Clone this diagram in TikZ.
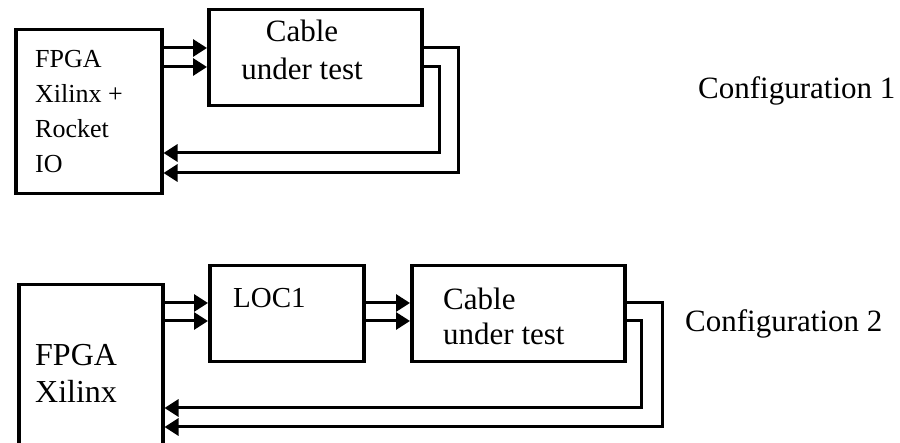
\documentclass[tikz,border=0pt]{standalone}
\usepackage{fontspec}
\setmainfont{Liberation Serif}
\usetikzlibrary{arrows.meta,calc}

\tikzset{
    box/.style={draw, line width=3.5pt, anchor=north west, inner sep=0pt},
    txt/.style={inner sep=0pt, align=left, anchor=north west},
    conn/.style={line width=3pt, -{Triangle[length=14pt,width=17pt]}}
}

\begin{document}
\begin{tikzpicture}[x=1pt,y=-1pt]
    \clip (0,0) rectangle (900,443);
    % configuration 1
    \node[box, minimum width=146pt, minimum height=164pt] (fpga1) at (14,28) {};
    \node[box, minimum width=213pt, minimum height=96pt] (cab1) at (207,8) {};
    \node[txt, font=\fontsize{26}{35}\selectfont] (fpga1txt) at ($(fpga1.north west)+(21,22)$) {FPGA\\Xilinx +\\Rocket\\IO};
    \node[txt, anchor=north, align=center, font=\fontsize{31}{38}\selectfont] (cab1txt) at ($(cab1.north west)+(95,12)$) {Cable\\under test};
    \node[inner sep=0pt, anchor=base west, font=\fontsize{31}{38}\selectfont] (conf1) at (698,99) {Configuration 1};
    \coordinate (in1) at ($(cab1.north west)+(0,40)$);
    \coordinate (in2) at ($(cab1.north west)+(0,59)$);
    \coordinate (out1) at ($(cab1.north east)+(0,40)$);
    \coordinate (out2) at ($(cab1.north east)+(0,59)$);
    \coordinate (ret1) at (458,173);
    \coordinate (ret2) at (439,153);
    \draw[conn] (fpga1.east |- in1) -- (in1);
    \draw[conn] (fpga1.east |- in2) -- (in2);
    \draw[conn] (out1) -| (ret1) -- (fpga1.east |- ret1);
    \draw[conn] (out2) -| (ret2) -- (fpga1.east |- ret2);
    % configuration 2
    \node[box, minimum width=144pt, minimum height=190pt] (fpga2) at (17,283) {};
    \node[box, minimum width=154pt, minimum height=96pt] (loc1) at (208,264) {};
    \node[box, minimum width=213pt, minimum height=96pt] (cab2) at (410,264) {};
    \node[txt, font=\fontsize{32}{37}\selectfont] (fpga2txt) at ($(fpga2.north west)+(18,61)$) {FPGA\\Xilinx};
    \node[txt, font=\fontsize{29}{35}\selectfont] (loc1txt) at ($(loc1.north west)+(25,24)$) {LOC1};
    \node[txt, font=\fontsize{31}{35}\selectfont] (cab2txt) at ($(cab2.north west)+(33,24)$) {Cable\\under test};
    \node[inner sep=0pt, anchor=base west, font=\fontsize{31}{38}\selectfont] (conf2) at (685,332) {Configuration 2};
    \coordinate (lin1) at ($(loc1.north west)+(0,39)$);
    \coordinate (lin2) at ($(loc1.north west)+(0,57)$);
    \coordinate (cin1) at ($(cab2.north west)+(0,39)$);
    \coordinate (cin2) at ($(cab2.north west)+(0,57)$);
    \coordinate (cout1) at ($(cab2.north east)+(0,39)$);
    \coordinate (cout2) at ($(cab2.north east)+(0,57)$);
    \coordinate (ret3) at (662,427);
    \coordinate (ret4) at (641,408);
    \draw[conn] (fpga2.east |- lin1) -- (lin1);
    \draw[conn] (fpga2.east |- lin2) -- (lin2);
    \draw[conn] (loc1.east |- cin1) -- (cin1);
    \draw[conn] (loc1.east |- cin2) -- (cin2);
    \draw[conn] (cout1) -| (ret3) -- (fpga2.east |- ret3);
    \draw[conn] (cout2) -| (ret4) -- (fpga2.east |- ret4);
\end{tikzpicture}
\end{document}
